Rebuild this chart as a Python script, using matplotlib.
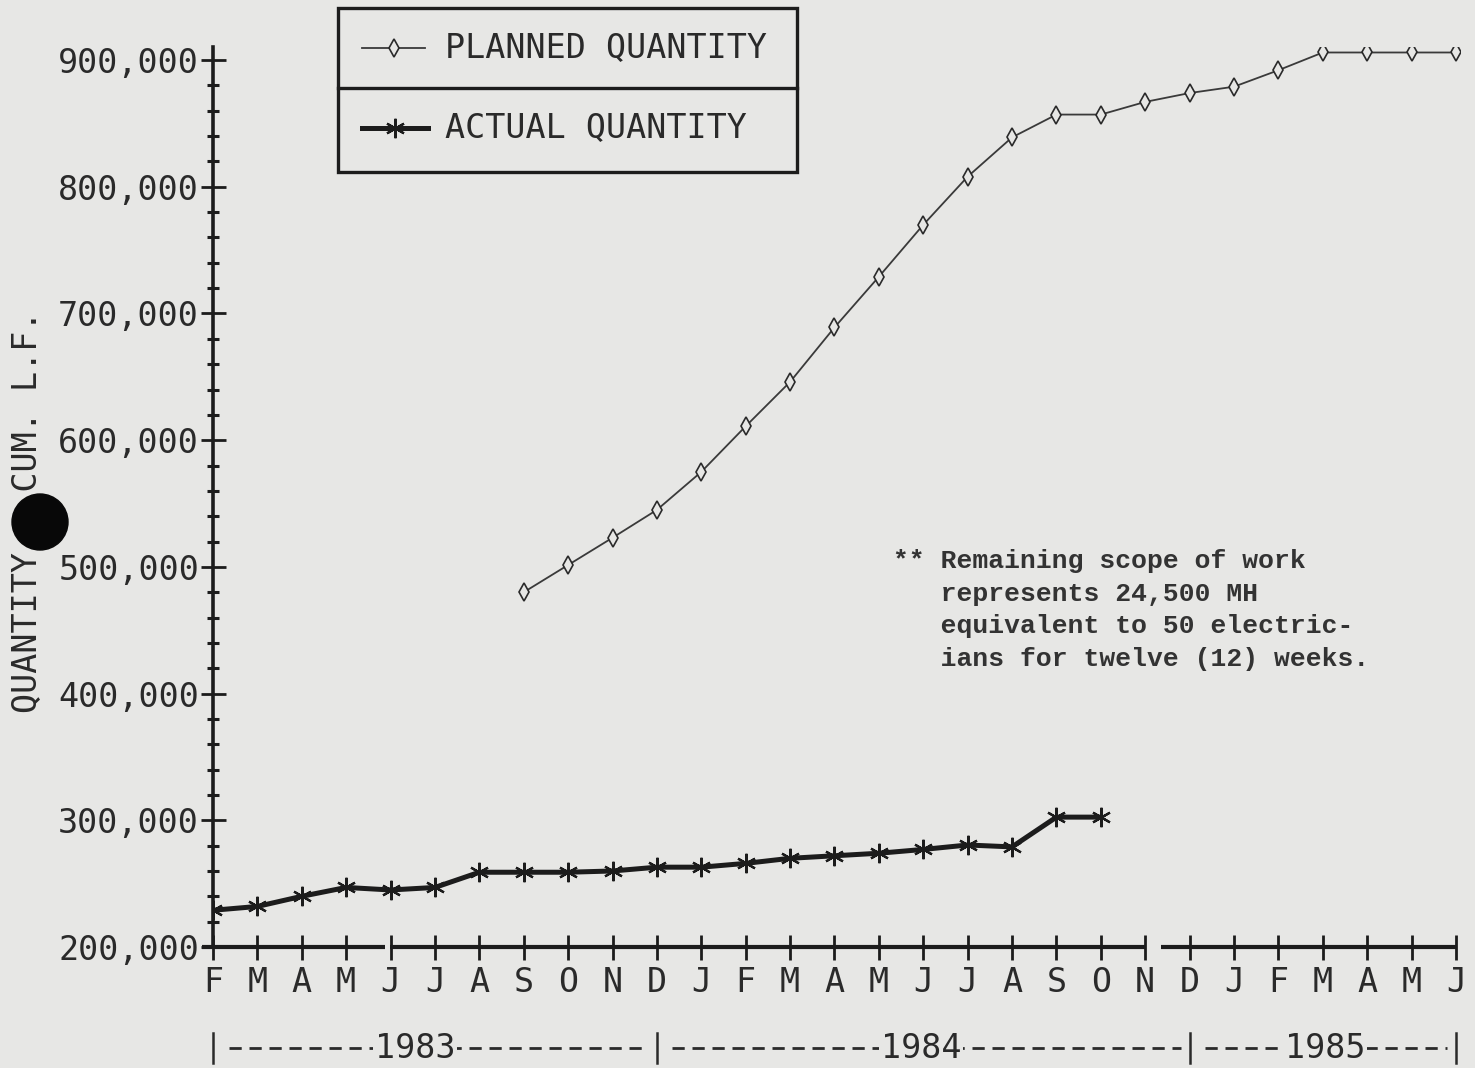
import numpy as np
import matplotlib.pyplot as plt
from matplotlib.patches import Rectangle, Ellipse
from matplotlib.lines import Line2D
from matplotlib.ticker import MultipleLocator

# Months Feb 1983 .. Jun 1985
months = ["F", "M", "A", "M", "J", "J", "A", "S", "O", "N", "D",
          "J", "F", "M", "A", "M", "J", "J", "A", "S", "O", "N", "D",
          "J", "F", "M", "A", "M", "J"]

# Planned quantity starts Sep 1983 (index 7)
planned_start = 7
planned = [480000, 501500, 523000, 545000, 575000, 611000, 646000, 689000,
           729000, 770000, 808000, 839000, 857000, 857000, 867000, 874000,
           879000, 892000, 906000, 906000, 906000, 906000]

# Actual quantity Feb 1983 .. Oct 1984
actual = [229000, 232000, 240000, 247000, 245000, 247000, 259000, 259000,
          259000, 260000, 263000, 263000, 266000, 270000, 272000, 274000,
          277000, 280500, 279000, 302500, 302500]

y_ticks = [200000, 300000, 400000, 500000, 600000, 700000, 800000, 900000]
y_labels = ["200,000", "300,000", "400,000", "500,000", "600,000",
            "700,000", "800,000", "900,000"]

years = ["1983", "1984", "1985"]
year_pos = [4.55, 15.95, 25.05]
year_bounds = [0, 10, 22, 28]

note = ("** Remaining scope of work\n"
        "   represents 24,500 MH\n"
        "   equivalent to 50 electric-\n"
        "   ians for twelve (12) weeks.")

bg = "#e7e7e5"
ink = "#1c1c1c"
mono = "DejaVu Sans Mono"

fig = plt.figure(figsize=(14.75, 10.68), dpi=100, facecolor=bg)
ax = fig.add_axes([0.1444, 0.1133, 0.8457, 0.8423], facecolor=bg)

x_all = np.arange(len(months))
x_plan = np.arange(planned_start, planned_start + len(planned))
x_act = np.arange(len(actual))

ax.plot(x_plan, planned, color="#3a3a3a", lw=1.3, marker="d", ms=9,
        mfc=bg, mec="#2a2a2a", mew=1.2, zorder=3)
ax.plot(x_act, actual, color=ink, lw=3.6, marker=(6, 2, 0), ms=14,
        mec=ink, mew=1.6, zorder=4)

ax.set_xlim(0, 28.1)
ax.set_ylim(200000, 910000)

for s in ["top", "right", "bottom"]:
    ax.spines[s].set_visible(False)
ax.spines["left"].set_linewidth(2.6)
ax.spines["left"].set_color(ink)

# bottom axis line (with the small breaks of the original plot)
trans = ax.get_xaxis_transform()
for a, b in [(-0.25, 3.88), (3.98, 21.0), (21.35, 28.0)]:
    ax.plot([a, b], [0, 0], color=ink, lw=3.0, transform=trans,
            clip_on=False, solid_capstyle="butt", zorder=5)

ax.set_xticks(x_all)
ax.set_xticklabels(months, fontfamily=mono, fontsize=24, color="#2a2a2a")
ax.set_yticks(y_ticks)
ax.set_yticklabels(y_labels, fontfamily=mono, fontsize=24, color="#2a2a2a")
ax.yaxis.set_minor_locator(MultipleLocator(20000))
ax.tick_params(axis="x", direction="inout", length=18, width=2,
               color=ink, pad=5)
ax.tick_params(axis="y", which="major", direction="inout", length=18,
               width=2, color=ink, pad=1)
ax.tick_params(axis="y", which="minor", direction="inout", length=8,
               width=2.2, color=ink)

# year line under the months
yl = -0.1123
for i, (yr, xp) in enumerate(zip(years, year_pos)):
    ax.text(xp, yl, yr, transform=trans, ha="center", va="center",
            fontfamily=mono, fontsize=24, color="#2a2a2a", zorder=6,
            bbox=dict(boxstyle="square,pad=0.05", fc=bg, ec="none"))
    x0 = year_bounds[i] + 0.35
    x1 = year_bounds[i + 1] - 0.2
    ax.plot([x0, x1], [yl, yl], transform=trans, clip_on=False,
            color="#2a2a2a", lw=2.0, ls=(0, (4.4, 2.8)), zorder=5)
for xb in year_bounds:
    ax.plot([xb, xb], [yl - 0.017, yl + 0.017], transform=trans,
            clip_on=False, color="#2a2a2a", lw=1.8, zorder=5)

# y axis label with the hole punch
fig.text(28 / 1475, 1 - 512 / 1068, "QUANTITY   CUM. L.F.", rotation=90,
         ha="center", va="center", fontfamily=mono, fontsize=24,
         color="#2a2a2a")
fig.add_artist(Ellipse((40 / 1475, 1 - 522 / 1068), 56 / 1475, 56 / 1068,
                       transform=fig.transFigure, color="#080808", zorder=10))

# legend box
lx0, lx1 = 338 / 1475, 797 / 1475
ly0, ly1, lym = 1 - 172 / 1068, 1 - 8 / 1068, 1 - 88 / 1068
fig.add_artist(Rectangle((lx0, ly0), lx1 - lx0, ly1 - ly0,
                         transform=fig.transFigure, fill=False,
                         ec=ink, lw=2.4))
fig.add_artist(Line2D([lx0, lx1], [lym, lym], transform=fig.transFigure,
                      color=ink, lw=2.4))
r1 = 1 - 48 / 1068
r2 = 1 - 128 / 1068
fig.add_artist(Line2D([362 / 1475, 425 / 1475], [r1, r1],
                      transform=fig.transFigure, color="#3a3a3a", lw=1.3))
fig.add_artist(Line2D([393.5 / 1475], [r1], transform=fig.transFigure,
                      marker="d", ms=9, mfc=bg, mec="#2a2a2a", mew=1.2))
fig.add_artist(Line2D([362 / 1475, 428 / 1475], [r2, r2],
                      transform=fig.transFigure, color=ink, lw=3.6))
fig.add_artist(Line2D([395 / 1475], [r2], transform=fig.transFigure,
                      marker=(6, 2, 0), ms=14, mec=ink, mew=1.6))
fig.text(445 / 1475, r1, "PLANNED QUANTITY", ha="left", va="center",
         fontfamily=mono, fontsize=24, color="#2a2a2a")
fig.text(445 / 1475, r2, "ACTUAL QUANTITY", ha="left", va="center",
         fontfamily=mono, fontsize=24, color="#2a2a2a")

# note
fig.text(893 / 1475, 1 - 549 / 1068, note, ha="left", va="top",
         fontfamily="Liberation Mono", fontsize=19, fontweight="bold",
         color="#333333", linespacing=1.45)

fig.savefig("out.png", dpi=100, facecolor=bg)
